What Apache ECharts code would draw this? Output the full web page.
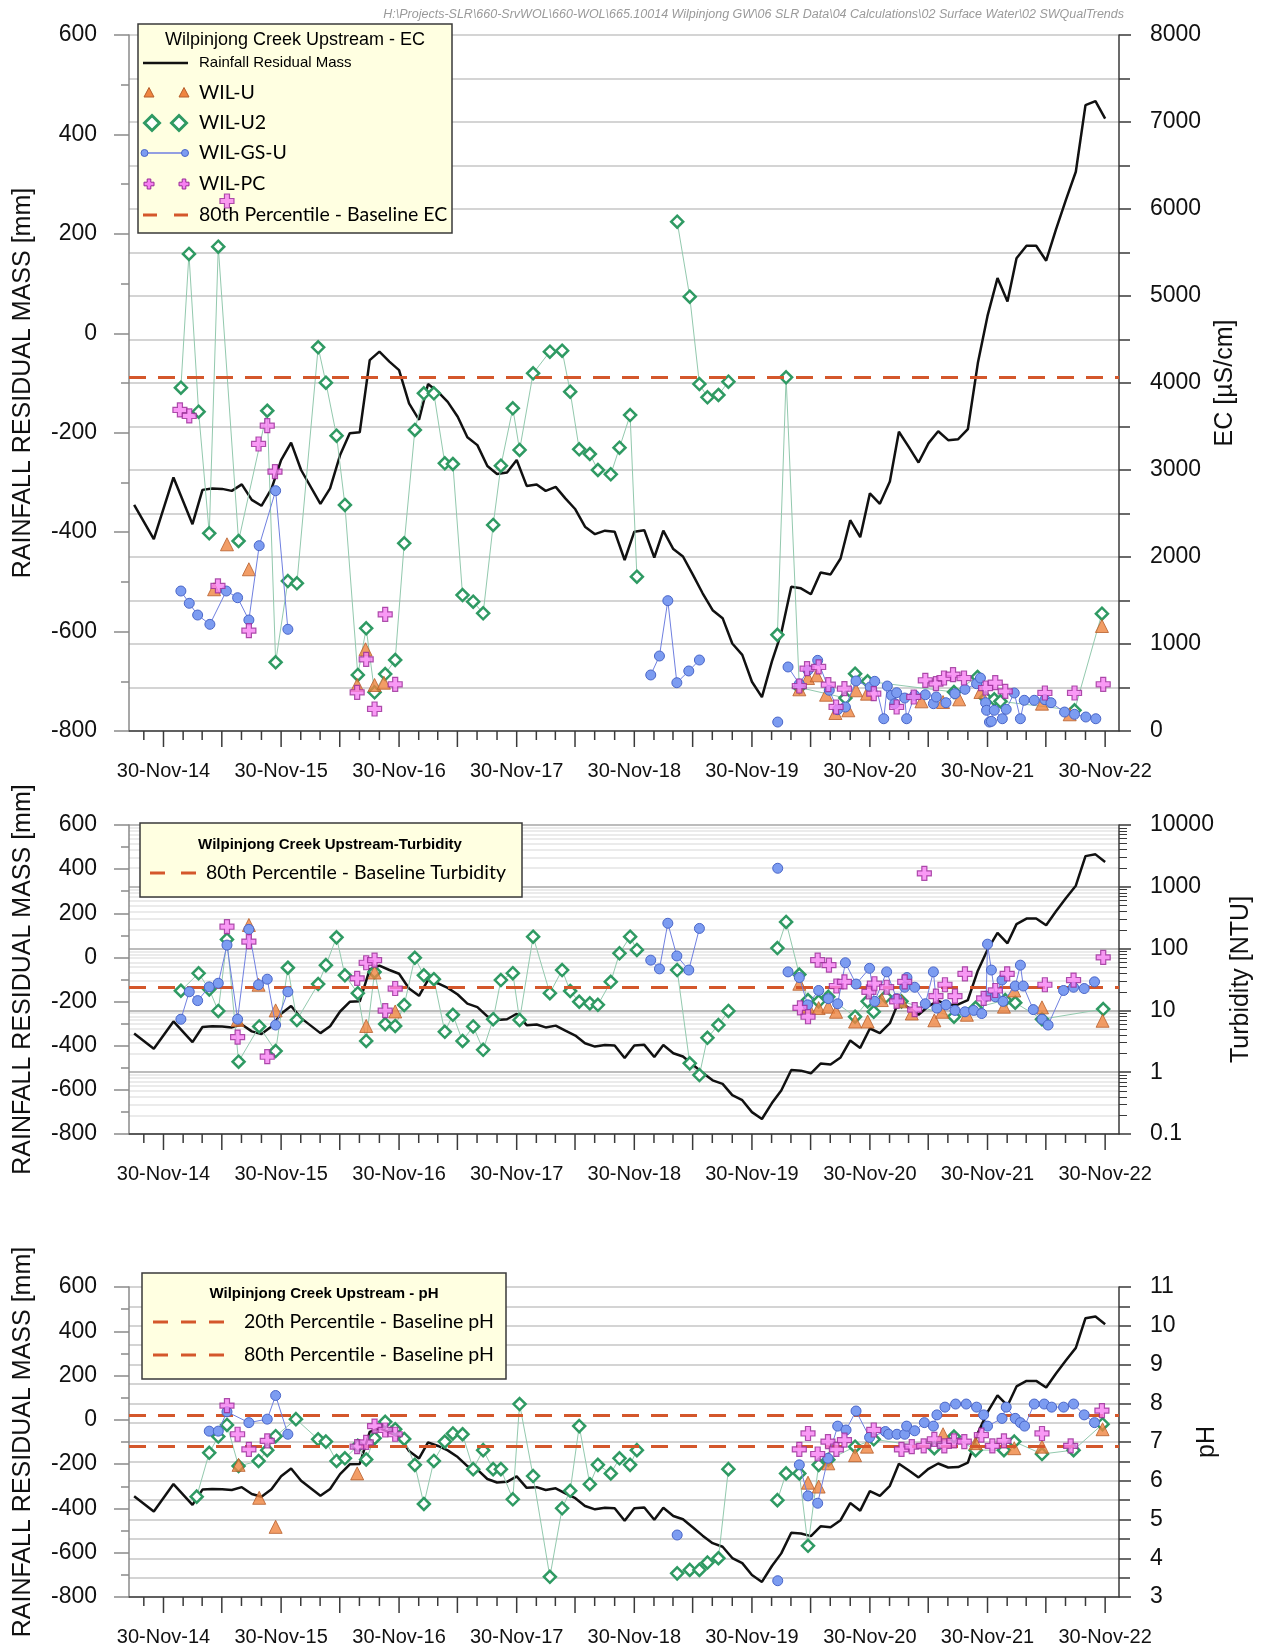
<!DOCTYPE html>
<html>
<head>
<meta charset="utf-8">
<title>Wilpinjong Creek Upstream – EC, Turbidity and pH</title>
<script src="https://cdn.jsdelivr.net/npm/echarts@6/dist/echarts.min.js"></script>
<style>
  html, body { margin: 0; padding: 0; background: #ffffff; }
  #chart { width: 1263px; height: 1647px; }
</style>
</head>
<body>
<div id="chart"></div>
<script>
// ---------------------------------------------------------------------------
// Data
// ---------------------------------------------------------------------------

// Date range shown on every x axis
const X_START = [2014, 8, 15];
const X_END = [2023, 1, 12];

// Rainfall residual mass axis range [mm]
const RAIN_MIN = -800, RAIN_MAX = 600;

// Rainfall residual mass [mm], month-end values
const RAINFALL_RESIDUAL_MASS = [
  ['2014-08', -345], ['2014-10', -414], ['2014-12', -290], ['2015-02', -384], ['2015-03', -315],
  ['2015-04', -312], ['2015-05', -313], ['2015-06', -317], ['2015-07', -304], ['2015-08', -335],
  ['2015-09', -347], ['2015-10', -313], ['2015-11', -255], ['2015-12', -220], ['2016-01', -275],
  ['2016-03', -343], ['2016-04', -312], ['2016-05', -245], ['2016-06', -201], ['2016-07', -199],
  ['2016-08', -54], ['2016-09', -37], ['2016-10', -57], ['2016-11', -74], ['2016-12', -141],
  ['2017-01', -174], ['2017-02', -102], ['2017-03', -118], ['2017-04', -138], ['2017-05', -168],
  ['2017-06', -209], ['2017-07', -225], ['2017-08', -267], ['2017-09', -283], ['2017-10', -280],
  ['2017-11', -255], ['2017-12', -307], ['2018-01', -304], ['2018-02', -317], ['2018-03', -309],
  ['2018-04', -332], ['2018-05', -354], ['2018-06', -389], ['2018-07', -404], ['2018-08', -397],
  ['2018-09', -399], ['2018-10', -456], ['2018-11', -399], ['2018-12', -396], ['2019-01', -451],
  ['2019-02', -397], ['2019-03', -434], ['2019-04', -449], ['2019-05', -486], ['2019-06', -523],
  ['2019-07', -557], ['2019-08', -573], ['2019-09', -624], ['2019-10', -647], ['2019-11', -701],
  ['2019-12', -732], ['2020-01', -660], ['2020-02', -603], ['2020-03', -510], ['2020-04', -513],
  ['2020-05', -525], ['2020-06', -481], ['2020-07', -485], ['2020-08', -453], ['2020-09', -376],
  ['2020-10', -410], ['2020-11', -322], ['2020-12', -343], ['2021-01', -298], ['2021-02', -198],
  ['2021-03', -229], ['2021-04', -260], ['2021-05', -221], ['2021-06', -197], ['2021-07', -215],
  ['2021-08', -213], ['2021-09', -193], ['2021-10', -60], ['2021-11', 35], ['2021-12', 111],
  ['2022-01', 64], ['2022-02', 151], ['2022-03', 176], ['2022-04', 176], ['2022-05', 146],
  ['2022-06', 208], ['2022-07', 268], ['2022-08', 325], ['2022-09', 459], ['2022-10', 467],
  ['2022-11', 432]
];

// Trigger values
const EC_BASELINE_80 = 4065;      // µS/cm
const TURB_BASELINE_80 = 24;      // NTU
const PH_BASELINE_20 = 6.9;
const PH_BASELINE_80 = 7.7;

// Electrical conductivity [µS/cm]  (null = no sample, line is broken)
const EC_WIL_U = [
  ['2015-05-06', 1629], ['2015-06-15', 2146], ['2015-08-22', 1859], ['2016-07-23', 529], ['2016-08-18', 939],
  ['2016-09-15', 529], ['2016-10-14', 555], ['2020-04-25', 479], ['2020-05-22', 609], ['2020-06-18', 640],
  ['2020-07-17', 417], ['2020-08-15', 207], ['2020-09-24', 238], ['2020-10-18', 468], ['2020-11-21', 429],
  ['2021-05-09', 341], ['2021-07-15', 333], ['2021-09-03', 364], ['2021-11-08', 448], ['2022-05-18', 314],
  ['2022-08-12', 192], ['2022-11-20', 1207]
];
const EC_WIL_U2 = [
  ['2015-01-23', 3946], ['2015-02-17', 5483], ['2015-03-19', 3670], ['2015-04-21', 2272], ['2015-05-19', 5567],
  ['2015-07-21', 2184], ['2015-10-18', 3681], ['2015-11-13', 790], ['2015-12-21', 1724], ['2016-01-18', 1698],
  ['2016-03-24', 4410], ['2016-04-17', 4004], ['2016-05-20', 3394], ['2016-06-15', 2598], ['2016-07-25', 644],
  ['2016-08-20', 1180], ['2016-09-15', 445], ['2016-10-18', 655], ['2016-11-18', 816], ['2016-12-16', 2157],
  ['2017-01-18', 3460], ['2017-02-15', 3881], ['2017-03-18', 3881], ['2017-04-21', 3077], ['2017-05-16', 3069],
  ['2017-06-15', 1563], ['2017-07-18', 1486], ['2017-08-18', 1353], ['2017-09-18', 2368], ['2017-10-12', 3049],
  ['2017-11-18', 3709], ['2017-12-09', 3230], ['2018-01-20', 4111], ['2018-03-13', 4360], ['2018-04-20', 4371],
  ['2018-05-15', 3900], ['2018-06-12', 3238], ['2018-07-15', 3184], ['2018-08-09', 3000], ['2018-09-18', 2950],
  ['2018-10-15', 3256], ['2018-11-17', 3632], ['2018-12-08', 1774], null,
  ['2019-04-12', 5854], ['2019-05-21', 4992], ['2019-06-20', 3988], ['2019-07-15', 3835], ['2019-08-18', 3862],
  ['2019-09-18', 4015], null,
  ['2020-02-17', 1105], ['2020-03-15', 4065], ['2020-04-25', 500], ['2020-09-15', 379], ['2020-10-15', 659],
  ['2020-11-23', 571], ['2021-08-18', 448], ['2021-10-30', 621], ['2021-11-24', 379], ['2021-12-21', 364],
  ['2022-01-09', 341], ['2022-08-27', 238], ['2022-11-20', 1348]
];
const EC_WIL_GS_U = [
  ['2015-01-23', 1609], ['2015-02-18', 1468], ['2015-03-16', 1333], ['2015-04-23', 1226], ['2015-06-13', 1609],
  ['2015-07-18', 1532], ['2015-08-22', 1276], ['2015-09-23', 2130], ['2015-11-13', 2762], ['2015-12-21', 1169], null,
  ['2019-01-20', 644], ['2019-02-16', 862], ['2019-03-14', 1498], ['2019-04-11', 555], ['2019-05-18', 690],
  ['2019-06-20', 816], null,
  ['2020-02-18', 103], null,
  ['2020-03-21', 736], ['2020-04-25', 540], ['2020-05-22', 698], ['2020-06-21', 812], ['2020-07-27', 468],
  ['2020-08-22', 245], ['2020-09-15', 276], ['2020-10-18', 575], ['2020-12-01', 506], ['2020-12-15', 571],
  ['2021-01-12', 141], ['2021-01-23', 517], ['2021-02-05', 410], ['2021-02-15', 314], ['2021-02-21', 440],
  ['2021-03-18', 379], ['2021-03-24', 141], ['2021-04-18', 410], ['2021-05-21', 417], ['2021-06-15', 314],
  ['2021-06-24', 391], ['2021-07-24', 325], ['2021-08-21', 429], ['2021-09-21', 479], ['2021-10-27', 544],
  ['2021-11-08', 609], ['2021-11-24', 325], ['2021-11-27', 238], ['2021-12-06', 103], ['2021-12-12', 111],
  ['2021-12-21', 238], ['2022-01-15', 141], ['2022-01-27', 249], ['2022-02-21', 437], ['2022-03-12', 141],
  ['2022-03-24', 353], ['2022-04-24', 353], ['2022-05-27', 360], ['2022-06-15', 325], ['2022-07-27', 218],
  ['2022-08-27', 192], ['2022-10-01', 161], ['2022-11-01', 141]
];
const EC_WIL_PC = [
  ['2015-01-20', 3690], ['2015-02-18', 3621], ['2015-05-18', 1667], ['2015-06-15', 6092], ['2015-08-22', 1153],
  ['2015-09-21', 3299], ['2015-10-18', 3509], ['2015-11-11', 2981], ['2016-07-23', 445], ['2016-08-20', 824],
  ['2016-09-15', 253], ['2016-10-18', 1341], ['2016-11-18', 537], ['2020-04-25', 517], ['2020-05-19', 716],
  ['2020-06-24', 736], ['2020-07-24', 532], ['2020-08-17', 276], ['2020-09-12', 486], ['2020-12-12', 429],
  ['2021-02-21', 276], ['2021-04-15', 391], ['2021-05-21', 583], ['2021-06-23', 544], ['2021-07-18', 609],
  ['2021-08-15', 647], ['2021-09-18', 609], ['2021-11-24', 494], ['2021-12-24', 555], ['2022-01-24', 456],
  ['2022-05-27', 437], ['2022-08-27', 437], ['2022-11-24', 537]
];

// Turbidity [NTU]
const TURB_WIL_U = [
  ['2015-07-18', 7.0], ['2015-08-22', 241], ['2015-09-21', 26], ['2015-11-13', 10], ['2016-08-20', 5.6],
  ['2016-09-15', 41], ['2016-11-18', 9.6], ['2020-04-25', 27], ['2020-05-22', 11.5], ['2020-06-24', 10.9],
  ['2020-07-24', 11.5], ['2020-08-17', 9.5], ['2020-10-15', 6.6], ['2020-11-23', 6.6], ['2021-01-06', 14.7],
  ['2021-03-08', 14], ['2021-04-09', 8.9], ['2021-06-18', 6.9], ['2021-07-12', 9.5], ['2021-09-27', 8.5],
  ['2022-01-20', 11.5], ['2022-02-21', 21], ['2022-05-18', 11.2], ['2022-11-22', 6.8]
];
const TURB_WIL_U2 = [
  ['2015-01-23', 20.8], ['2015-03-19', 39.8], ['2015-04-21', 21.9], ['2015-05-19', 9.8], ['2015-06-15', 141],
  ['2015-07-21', 1.48], ['2015-09-23', 5.5], ['2015-11-13', 2.2], ['2015-12-21', 49], ['2016-01-18', 7.0],
  ['2016-03-24', 26.7], ['2016-04-17', 54], ['2016-05-20', 152], ['2016-06-15', 37], ['2016-07-25', 19],
  ['2016-08-20', 3.2], ['2016-09-15', 42], ['2016-10-18', 6.0], ['2016-11-18', 5.6], ['2016-12-16', 12.2],
  ['2017-01-18', 71], ['2017-02-15', 37], ['2017-03-18', 32], ['2017-04-21', 4.5], ['2017-05-16', 8.5],
  ['2017-06-15', 3.2], ['2017-07-18', 5.5], ['2017-08-18', 2.3], ['2017-09-18', 7.2], ['2017-10-12', 31],
  ['2017-11-18', 40], ['2017-12-09', 7.0], ['2018-01-20', 156], ['2018-03-13', 19], ['2018-04-20', 45],
  ['2018-05-15', 20.6], ['2018-06-12', 13.8], ['2018-07-15', 13], ['2018-08-09', 12.3], ['2018-09-18', 29],
  ['2018-10-15', 84], ['2018-11-17', 156], ['2018-12-08', 95], null,
  ['2019-04-12', 45], ['2019-05-21', 1.39], ['2019-06-20', 0.9], ['2019-07-15', 3.6], ['2019-08-18', 5.8],
  ['2019-09-18', 9.8], null,
  ['2020-02-17', 102], ['2020-03-15', 270], ['2020-04-25', 38], ['2020-05-22', 14.7], ['2020-06-24', 14],
  ['2020-07-24', 16.6], ['2020-10-15', 7.9], ['2020-11-23', 14], ['2020-12-12', 9.5], ['2021-01-18', 16.6],
  ['2021-03-08', 14], ['2021-08-18', 7.9], ['2021-10-24', 11], ['2022-01-24', 14.7], ['2022-02-24', 13.3],
  ['2022-05-18', 7.2], ['2022-11-24', 10.5]
];
const TURB_WIL_GS_U = [
  ['2015-01-23', 7.2], ['2015-02-18', 20], ['2015-03-16', 14.4], ['2015-04-21', 24], ['2015-05-19', 27.5],
  ['2015-06-15', 114], ['2015-07-18', 7.2], ['2015-08-22', 205], ['2015-09-21', 26], ['2015-10-18', 32],
  ['2015-11-13', 5.8], ['2015-12-21', 20], null,
  ['2019-01-20', 65], ['2019-02-16', 47], ['2019-03-14', 257], ['2019-04-11', 76], ['2019-05-18', 45],
  ['2019-06-20', 212], null,
  ['2020-02-18', 1995], null,
  ['2020-03-21', 42], ['2020-04-25', 34], ['2020-05-21', 12.3], ['2020-06-24', 21], ['2020-07-24', 15.5],
  ['2020-08-22', 12.8], ['2020-09-15', 59], ['2020-10-18', 26.7], ['2020-11-29', 48], ['2020-12-15', 14],
  ['2021-01-21', 42], ['2021-02-21', 15.5], ['2021-03-18', 23.7], ['2021-03-25', 34], ['2021-04-18', 23.7],
  ['2021-05-21', 12.8], ['2021-06-15', 42], ['2021-06-26', 10.9], ['2021-07-24', 12.3], ['2021-08-21', 10],
  ['2021-09-21', 9.5], ['2021-10-18', 10], ['2021-11-12', 8.9], ['2021-11-26', 17], ['2021-11-30', 118],
  ['2021-12-12', 45], ['2021-12-24', 16.6], ['2022-01-14', 31], ['2022-01-17', 14], ['2022-02-24', 24.8],
  ['2022-03-12', 54], ['2022-03-21', 24.8], ['2022-04-21', 10.3], ['2022-05-18', 7.2], ['2022-06-06', 5.8],
  ['2022-07-24', 21], ['2022-08-24', 23.7], ['2022-09-26', 22.6], ['2022-10-28', 29]
];
const TURB_WIL_PC = [
  ['2015-06-15', 226], ['2015-07-18', 3.7], ['2015-08-22', 130], ['2015-10-18', 1.78], ['2016-07-23', 33],
  ['2016-08-20', 59], ['2016-09-15', 65], ['2016-10-18', 9.9], ['2016-11-18', 22.6], ['2020-04-27', 11],
  ['2020-05-22', 7.9], ['2020-06-21', 65], ['2020-07-26', 54], ['2020-08-18', 24.8], ['2020-09-12', 29],
  ['2020-11-27', 20], ['2020-12-14', 27], ['2021-01-21', 23.7], ['2021-02-21', 14], ['2021-03-18', 29],
  ['2021-04-18', 10.3], ['2021-05-18', 1650], ['2021-06-23', 17], ['2021-07-21', 26], ['2021-08-21', 17],
  ['2021-09-21', 39], ['2021-11-18', 15.6], ['2021-12-24', 21], ['2022-01-30', 39], ['2022-05-27', 26],
  ['2022-08-24', 31], ['2022-11-24', 72]
];

// pH
const PH_WIL_U = [
  ['2015-07-21', 6.41], ['2015-09-23', 5.56], ['2015-11-13', 4.81], ['2016-07-23', 6.19], ['2020-05-22', 5.95],
  ['2020-06-24', 5.85], ['2020-07-24', 6.45], ['2020-10-15', 6.66], ['2020-11-21', 6.88], ['2021-07-15', 7.2],
  ['2021-10-24', 6.97], ['2022-02-21', 6.84], ['2022-05-18', 6.88], ['2022-11-22', 7.33]
];
const PH_WIL_U2 = [
  ['2015-03-13', 5.59], ['2015-04-21', 6.72], ['2015-05-19', 7.14], ['2015-06-15', 7.44], ['2015-07-21', 6.38],
  ['2015-09-21', 6.51], ['2015-10-18', 6.79], ['2015-11-13', 7.15], ['2016-01-15', 7.59], ['2016-03-24', 7.07],
  ['2016-04-17', 7.01], ['2016-05-20', 6.51], ['2016-06-15', 6.58], ['2016-07-25', 6.90], ['2016-08-20', 6.55],
  ['2016-09-15', 7.10], ['2016-10-18', 7.52], ['2016-11-18', 7.33], ['2016-12-16', 7.08], ['2017-01-18', 6.41],
  ['2017-02-15', 5.40], ['2017-03-18', 6.51], ['2017-04-21', 7.01], ['2017-05-16', 7.22], ['2017-06-15', 7.2],
  ['2017-07-18', 6.30], ['2017-08-18', 6.79], ['2017-09-18', 6.30], ['2017-10-12', 6.30], ['2017-11-18', 5.52],
  ['2017-12-09', 7.98], ['2018-01-20', 6.12], ['2018-03-13', 3.52], ['2018-04-20', 5.29], ['2018-05-15', 5.74],
  ['2018-06-12', 7.41], ['2018-07-15', 5.91], ['2018-08-09', 6.41], ['2018-09-18', 6.19], ['2018-10-15', 6.58],
  ['2018-11-17', 6.41], ['2018-12-08', 6.79], null,
  ['2019-04-12', 3.61], ['2019-05-21', 3.70], ['2019-06-20', 3.70], ['2019-07-15', 3.89], ['2019-08-18', 4.0],
  ['2019-09-18', 6.30], null,
  ['2020-02-17', 5.50], ['2020-03-15', 6.19], ['2020-04-25', 6.19], ['2020-05-22', 4.32], ['2020-06-24', 6.41],
  ['2020-07-24', 6.54], ['2020-10-15', 6.88], ['2020-12-12', 7.07], ['2021-06-18', 6.84], ['2021-08-18', 7.14],
  ['2021-10-24', 6.79], ['2022-01-20', 6.79], ['2022-02-21', 7.01], ['2022-05-18', 6.69], ['2022-08-24', 6.79],
  ['2022-11-22', 7.46]
];
const PH_WIL_GS_U = [
  ['2015-04-21', 7.28], ['2015-05-19', 7.28], ['2015-06-15', 7.78], ['2015-08-22', 7.50], ['2015-10-18', 7.59],
  ['2015-11-13', 8.20], ['2015-12-21', 7.20], null,
  ['2019-04-12', 4.60], null,
  ['2020-02-18', 3.42], null,
  ['2020-04-25', 6.41], ['2020-05-22', 5.61], ['2020-06-21', 5.42], ['2020-07-23', 6.58], ['2020-08-22', 7.41],
  ['2020-09-17', 7.31], ['2020-10-18', 7.80], ['2020-11-29', 7.12], ['2021-01-17', 7.27], ['2021-01-27', 7.20],
  ['2021-02-22', 7.20], ['2021-03-18', 7.20], ['2021-03-24', 7.41], ['2021-04-18', 7.29], ['2021-05-18', 7.50],
  ['2021-06-15', 7.41], ['2021-06-26', 7.70], ['2021-07-21', 7.90], ['2021-08-23', 7.98], ['2021-09-25', 7.98],
  ['2021-10-27', 7.90], ['2021-11-18', 7.70], ['2021-11-30', 7.41], ['2022-01-14', 7.61], ['2022-01-27', 7.90],
  ['2022-02-24', 7.61], ['2022-03-12', 7.50], ['2022-03-25', 7.41], ['2022-04-24', 7.98], ['2022-05-25', 7.98],
  ['2022-06-17', 7.90], ['2022-07-24', 7.90], ['2022-08-24', 7.98], ['2022-09-26', 7.70], ['2022-10-28', 7.50]
];
const PH_WIL_PC = [
  ['2015-06-15', 7.94], ['2015-07-18', 7.20], ['2015-08-22', 6.81], ['2015-10-18', 7.03], ['2016-07-23', 6.88],
  ['2016-08-20', 6.99], ['2016-09-15', 7.41], ['2016-10-18', 7.31], ['2016-11-18', 7.20], ['2020-04-25', 6.81],
  ['2020-05-22', 7.22], ['2020-06-21', 6.69], ['2020-07-23', 7.01], ['2020-08-18', 6.81], ['2020-09-12', 7.05],
  ['2020-12-12', 7.31], ['2021-03-08', 6.81], ['2021-04-09', 6.88], ['2021-05-16', 6.90], ['2021-06-18', 7.07],
  ['2021-07-19', 6.90], ['2021-08-18', 7.03], ['2021-09-19', 7.01], ['2021-11-11', 7.18], ['2021-12-15', 6.90],
  ['2022-01-20', 7.03], ['2022-05-18', 7.22], ['2022-08-15', 6.90], ['2022-11-20', 7.81]
];

// ---------------------------------------------------------------------------
// Helpers
// ---------------------------------------------------------------------------
const X_MIN = new Date(X_START[0], X_START[1] - 1, X_START[2]).getTime();
const X_MAX = new Date(X_END[0], X_END[1] - 1, X_END[2]).getTime();

function dayMs(s) {
  const p = s.split('-').map(Number);
  return new Date(p[0], p[1] - 1, p[2]).getTime();
}
function monthEnd(ym) {
  const p = ym.split('-').map(Number);
  return new Date(p[0], p[1], 0).getTime();
}
const rainSeriesData = RAINFALL_RESIDUAL_MASS.map(r => [monthEnd(r[0]), r[1]]);

// sample rows -> [time, value]; a null row is a gap in the sampling record
const samples = rows => rows.map(r => (r === null ? ['-', '-'] : [dayMs(r[0]), r[1]]));

const MONTHS = ['Jan', 'Feb', 'Mar', 'Apr', 'May', 'Jun', 'Jul', 'Aug', 'Sep', 'Oct', 'Nov', 'Dec'];
function fmtDate(v) {
  const d = new Date(v);
  return d.getDate() + '-' + MONTHS[d.getMonth()] + '-' + String(d.getFullYear()).slice(2);
}
const plainNumber = v => String(+(+v).toPrecision(6));

// date scale marks: a tick on the 30th of every second month, longer every six
// months, with a label each 30 November  -> [time, tick length, labelled]
const DATE_MARKS = [];
for (let y = 2014; y <= 2023; y++) {
  for (const m of [0, 2, 4, 6, 8, 10]) {
    const t = new Date(y, m, 30).getTime();
    if (t < X_MIN || t > X_MAX) continue;
    DATE_MARKS.push([t, (m === 4 || m === 10) ? 16 : 9, m === 10 ? 1 : 0]);
  }
}
// minor ticks of the logarithmic turbidity scale (2..9 in each decade), in log10 units
const LOG_MINOR = [];
for (let e = -1; e < 4; e++) for (let k = 2; k <= 9; k++) LOG_MINOR.push(Math.log10(k) + e);

// ---------------------------------------------------------------------------
// Styles
// ---------------------------------------------------------------------------
const FONT = '"Liberation Sans", Arial, sans-serif';
const TXT = '#111111';
const AX_DARK = '#3a3a3a';
const AX_GRAY = '#8a8a8a';
const GRID_LINE = '#d4d4d4';
const DASH_RED = '#d4572b';
const GREEN = '#2f9a63', GREEN_LINE = '#93c9ae';
const BLUE_FILL = '#7c9cf1', BLUE_EDGE = '#4a66c8', BLUE_LINE = '#6f7fe0';
const ORANGE_FILL = '#ef8540', ORANGE_EDGE = '#b65e2b';
const PINK_FILL = '#f87ff3', PINK_EDGE = '#982a96';
const CROSS = 'path://M32,0H68V32H100V68H68V100H32V68H0V32H32Z';

const GRIDS = [
  { left: 129, top: 35, width: 990, height: 696 },
  { left: 129, top: 825, width: 990, height: 309 },
  { left: 129, top: 1287, width: 990, height: 310 }
].map(g => Object.assign({ containLabel: false, outerBoundsMode: 'none', show: false }, g));

function xAxisFor(gi) {
  return {
    type: 'value', gridIndex: gi, position: 'bottom', min: X_MIN, max: X_MAX, scale: true,
    axisLine: { show: true, onZero: false, lineStyle: { color: AX_DARK, width: 1.5 } },
    axisTick: { show: false }, axisLabel: { show: false },
    splitLine: { show: false }, minorTick: { show: false }
  };
}

function rainAxis(gi) {
  return {
    type: 'value', gridIndex: gi, position: 'left', min: RAIN_MIN, max: RAIN_MAX, interval: 200,
    name: 'RAINFALL RESIDUAL MASS [mm]', nameLocation: 'middle', nameRotate: 90, nameGap: 93,
    nameTextStyle: { fontSize: 25, color: TXT, fontFamily: FONT },
    axisLine: { show: true, onZero: false, lineStyle: { color: AX_GRAY, width: 1.5 } },
    axisTick: { show: true, length: 15, lineStyle: { color: AX_GRAY, width: 1.5 } },
    minorTick: { show: true, splitNumber: 2, length: 8, lineStyle: { color: AX_GRAY, width: 1.5 } },
    axisLabel: { fontSize: 23, color: TXT, margin: 32, fontFamily: FONT, formatter: plainNumber },
    splitLine: { show: false }
  };
}

function rightAxisBase(gi, name, gap) {
  return {
    gridIndex: gi, position: 'right',
    name: name, nameLocation: 'middle', nameRotate: 90, nameGap: gap,
    nameTextStyle: { fontSize: 25, color: TXT, fontFamily: FONT },
    axisLine: { show: true, onZero: false, lineStyle: { color: AX_DARK, width: 1.5 } },
    axisTick: { show: true, length: 12, lineStyle: { color: AX_DARK, width: 1.5 } },
    axisLabel: { fontSize: 23, color: TXT, margin: 31, fontFamily: FONT, formatter: plainNumber }
  };
}

const yAxes = [
  // 0,1: EC panel
  rainAxis(0),
  Object.assign(rightAxisBase(0, 'EC [µS/cm]', 94), {
    type: 'value', min: 0, max: 8000, interval: 1000,
    minorTick: { show: true, splitNumber: 2, length: 11, lineStyle: { color: AX_DARK, width: 1.5 } },
    splitLine: { show: true, lineStyle: { color: GRID_LINE, width: 2 } },
    minorSplitLine: { show: true, lineStyle: { color: GRID_LINE, width: 2 } }
  }),
  // 2,3,4: turbidity panel
  rainAxis(1),
  {
    type: 'value', gridIndex: 1, position: 'right', min: -1, max: 4,
    axisLine: { show: false, onZero: false }, axisLabel: { show: false },
    axisTick: { show: true, customValues: LOG_MINOR, length: 8, lineStyle: { color: AX_DARK, width: 1 } },
    splitLine: { show: true, lineStyle: { color: '#e4e4e4', width: 1.5 } }
  },
  Object.assign(rightAxisBase(1, 'Turbidity [NTU]', 110), {
    type: 'log', logBase: 10, min: 0.1, max: 10000,
    minorTick: { show: false },
    splitLine: { show: true, lineStyle: { color: '#bcbcbc', width: 2 } }
  }),
  // 5,6: pH panel
  rainAxis(2),
  Object.assign(rightAxisBase(2, 'pH', 76), {
    type: 'value', min: 3, max: 11, interval: 1,
    minorTick: { show: true, splitNumber: 2, length: 11, lineStyle: { color: AX_DARK, width: 1.5 } },
    splitLine: { show: true, lineStyle: { color: GRID_LINE, width: 2 } },
    minorSplitLine: { show: true, lineStyle: { color: GRID_LINE, width: 2 } }
  })
];

// date ticks and labels under each x axis, placed through the axis scales
function dateScale(p, yLeft) {
  return {
    type: 'custom', name: 'date scale', xAxisIndex: p, yAxisIndex: yLeft,
    data: DATE_MARKS.map(d => [d[0], RAIN_MIN, d[1], d[2]]), silent: true, clip: false, z: 1,
    renderItem: (params, api) => {
      const pt = api.coord([api.value(0), api.value(1)]);
      const children = [{
        type: 'line', shape: { x1: pt[0], y1: pt[1], x2: pt[0], y2: pt[1] + api.value(2) },
        style: { stroke: AX_DARK, lineWidth: 1.5 }
      }];
      if (api.value(3)) {
        children.push({
          type: 'text', x: pt[0], y: pt[1] + 30,
          style: { text: fmtDate(api.value(0)), font: '20px ' + FONT, fill: TXT, align: 'center', verticalAlign: 'top' }
        });
      }
      return { type: 'group', children: children };
    }
  };
}

function panelSeries(p, yLeft, yRight, d, baselines) {
  const xi = p;
  return [
    dateScale(p, yLeft),
    {
      type: 'line', name: 'Rainfall Residual Mass', xAxisIndex: xi, yAxisIndex: yLeft,
      data: rainSeriesData, symbol: 'none', z: 2,
      lineStyle: { color: '#111111', width: 2.5 }
    },
    {
      type: 'line', name: 'WIL-U2', xAxisIndex: xi, yAxisIndex: yRight,
      data: samples(d.u2), connectNulls: false, z: 3,
      symbol: 'diamond', symbolSize: 12, showAllSymbol: true,
      itemStyle: { color: '#ffffff', borderColor: GREEN, borderWidth: 2.5 },
      lineStyle: { color: GREEN_LINE, width: 1 },
      markLine: {
        silent: true, symbol: ['none', 'none'], label: { show: false },
        lineStyle: { color: DASH_RED, width: 3, type: [17, 12] },
        emphasis: { disabled: true },
        data: baselines.map(v => ({ yAxis: v }))
      }
    },
    {
      type: 'scatter', name: 'WIL-U', xAxisIndex: xi, yAxisIndex: yRight,
      data: samples(d.u), symbol: 'triangle', symbolSize: 13, z: 4,
      itemStyle: { color: ORANGE_FILL, borderColor: ORANGE_EDGE, borderWidth: 1 }
    },
    {
      type: 'line', name: 'WIL-GS-U', xAxisIndex: xi, yAxisIndex: yRight,
      data: samples(d.gsu), connectNulls: false, z: 5,
      symbol: 'circle', symbolSize: 10, showAllSymbol: true,
      itemStyle: { color: BLUE_FILL, borderColor: BLUE_EDGE, borderWidth: 1 },
      lineStyle: { color: BLUE_LINE, width: 1 }
    },
    {
      type: 'scatter', name: 'WIL-PC', xAxisIndex: xi, yAxisIndex: yRight,
      data: samples(d.pc), symbol: CROSS, symbolSize: 14, symbolKeepAspect: true, z: 6,
      itemStyle: { color: PINK_FILL, borderColor: PINK_EDGE, borderWidth: 1.2 }
    }
  ];
}

const series = [].concat(
  panelSeries(0, 0, 1, { u: EC_WIL_U, u2: EC_WIL_U2, gsu: EC_WIL_GS_U, pc: EC_WIL_PC }, [EC_BASELINE_80]),
  panelSeries(1, 2, 4, { u: TURB_WIL_U, u2: TURB_WIL_U2, gsu: TURB_WIL_GS_U, pc: TURB_WIL_PC }, [TURB_BASELINE_80]),
  panelSeries(2, 5, 6, { u: PH_WIL_U, u2: PH_WIL_U2, gsu: PH_WIL_GS_U, pc: PH_WIL_PC }, [PH_BASELINE_20, PH_BASELINE_80])
);

// ---------------------------------------------------------------------------
// Legend boxes and file path note
// ---------------------------------------------------------------------------
const G = [];
const LEG_FONT = '19.5px Lato, "Liberation Sans", sans-serif';
const TITLE_FONT = '18px "Liberation Sans", Arial, sans-serif';
const SMALL_FONT = '15px "Liberation Sans", Arial, sans-serif';
const BOLD_NARROW = 'bold 15px "Liberation Sans Narrow", "Liberation Sans", sans-serif';

function box(x1, y1, x2, y2) {
  G.push({ type: 'rect', z: 1, shape: { x: x1, y: y1, width: x2 - x1, height: y2 - y1 },
           style: { fill: '#ffffe1', stroke: '#3a3a3a', lineWidth: 1.5 } });
}
function text(x, y, str, font, align, color) {
  G.push({ type: 'text', z: 1, x: x, y: y,
           style: { text: str, font: font, fill: color || '#000000', align: align || 'left', verticalAlign: 'middle' } });
}
function seg(x1, y1, x2, y2, color, w) {
  G.push({ type: 'line', z: 1, shape: { x1: x1, y1: y1, x2: x2, y2: y2 }, style: { stroke: color, lineWidth: w } });
}
function poly(points, fill, stroke, lw) {
  G.push({ type: 'polygon', z: 1, shape: { points: points }, style: { fill: fill, stroke: stroke, lineWidth: lw } });
}
function tri(cx, cy, s) {
  poly([[cx, cy - s * 0.55], [cx + s / 2, cy + s * 0.4], [cx - s / 2, cy + s * 0.4]], ORANGE_FILL, ORANGE_EDGE, 1);
}
function dia(cx, cy, s) {
  const h = s / 2;
  poly([[cx, cy - h], [cx + h, cy], [cx, cy + h], [cx - h, cy]], '#ffffff', GREEN, 3);
}
function dot(cx, cy, r) {
  G.push({ type: 'circle', z: 1, shape: { cx: cx, cy: cy, r: r }, style: { fill: BLUE_FILL, stroke: BLUE_EDGE, lineWidth: 1 } });
}
function plus(cx, cy, s) {
  const a = s / 2, b = s * 0.18;
  poly([[cx - b, cy - a], [cx + b, cy - a], [cx + b, cy - b], [cx + a, cy - b], [cx + a, cy + b], [cx + b, cy + b],
        [cx + b, cy + a], [cx - b, cy + a], [cx - b, cy + b], [cx - a, cy + b], [cx - a, cy - b], [cx - b, cy - b]],
       PINK_FILL, PINK_EDGE, 1);
}
function dashes(x, y, pieces, len, gap) {
  for (let i = 0; i < pieces; i++) seg(x + i * (len + gap), y, x + i * (len + gap) + len, y, DASH_RED, 3);
}

// EC legend
box(138, 24, 452, 233);
text(295, 40, 'Wilpinjong Creek Upstream - EC', TITLE_FONT, 'center');
seg(143, 63, 188, 63, '#111111', 2.5);
text(199, 63, 'Rainfall Residual Mass', SMALL_FONT);
tri(149, 93, 10); tri(184, 93, 10);
text(199, 93, 'WIL-U', LEG_FONT);
dia(152, 123, 15); dia(179, 123, 15);
text(199, 123, 'WIL-U2', LEG_FONT);
seg(144, 153, 186, 153, BLUE_LINE, 1.5); dot(144.5, 153, 3.5); dot(185, 153, 3.5);
text(199, 153, 'WIL-GS-U', LEG_FONT);
plus(149, 184, 10); plus(184, 184, 10);
text(199, 184, 'WIL-PC', LEG_FONT);
dashes(143, 215, 2, 14, 17);
text(199, 215, '80th Percentile - Baseline EC', LEG_FONT);

// Turbidity legend
box(140, 823, 522, 897);
text(330, 845, 'Wilpinjong Creek Upstream-Turbidity', BOLD_NARROW, 'center');
dashes(150, 873, 2, 15, 16);
text(206, 873, '80th Percentile - Baseline Turbidity', LEG_FONT);

// pH legend
box(142, 1273, 506, 1379);
text(324, 1294, 'Wilpinjong Creek Upstream - pH', BOLD_NARROW, 'center');
dashes(153, 1322, 3, 15, 13);
text(244, 1322, '20th Percentile - Baseline pH', LEG_FONT);
dashes(153, 1355, 3, 15, 13);
text(244, 1355, '80th Percentile - Baseline pH', LEG_FONT);

// source file path
text(1124, 15,
  'H:\\Projects-SLR\\660-SrvWOL\\660-WOL\\665.10014 Wilpinjong GW\\06 SLR Data\\04 Calculations\\02 Surface Water\\02 SWQualTrends',
  'italic 12.5px "Liberation Sans", Arial, sans-serif', 'right', '#9a9a9a');

// ---------------------------------------------------------------------------
const chart = echarts.init(document.getElementById('chart'), null, { renderer: 'canvas' });
chart.setOption({
  animation: false,
  backgroundColor: '#ffffff',
  textStyle: { fontFamily: FONT },
  grid: GRIDS,
  xAxis: [xAxisFor(0), xAxisFor(1), xAxisFor(2)],
  yAxis: yAxes,
  series: series,
  graphic: { elements: G }
});
</script>
</body>
</html>
